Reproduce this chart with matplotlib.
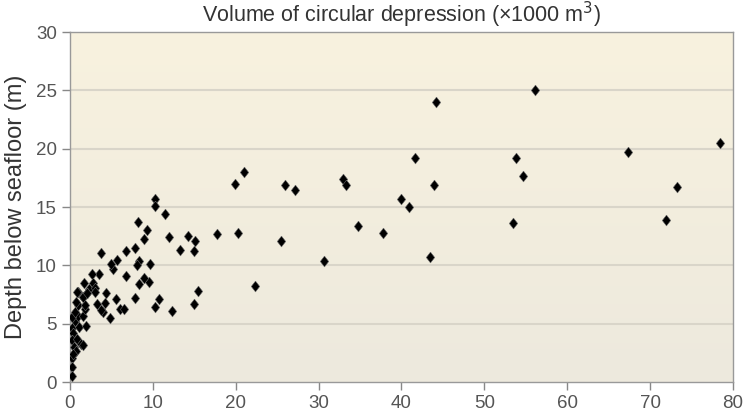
import numpy as np
import matplotlib
matplotlib.use("Agg")
import matplotlib.pyplot as plt
from matplotlib.colors import LinearSegmentedColormap

# volume (x1000 m3) and depth (m)
volume = [
    78.4, 73.3, 71.9, 67.3, 56.1, 53.8, 54.7, 53.5, 44.2, 41.6, 43.9, 40.0,
    40.9, 43.5, 37.8, 34.7, 33.0, 33.3, 30.7, 27.1, 26.0, 25.5, 21.0, 19.9,
    20.3, 22.3, 17.7, 15.4, 15.0, 15.1, 15.0, 14.3, 13.3, 12.3, 11.9, 11.5,
    10.2, 10.2, 10.8, 10.3, 9.7, 9.5, 9.3, 8.9, 8.9, 8.2, 8.3, 8.1, 8.3,
    7.9, 7.9, 6.7, 6.8, 6.0, 6.5, 5.7, 5.5, 5.2, 4.9, 4.8, 4.3, 4.2, 4.0,
    3.8, 3.5, 2.6, 2.8, 2.3, 3.0, 1.7, 1.0, 2.0, 3.0, 1.6, 3.7, 3.2,
    0.2, 0.6, 1.1, 1.9, 0.4, 0.3, 0.8, 1.3, 1.6, 0.5, 0.7, 0.3, 0.2, 0.2,
    0.4, 1.0, 0.3, 1.6, 0.6, 1.8, 1.0, 0.7, 1.8, 1.6, 0.9, 2.0,
]
depth = [
    20.45, 16.7, 13.9, 19.7, 25.0, 19.2, 17.7, 13.6, 24.0, 19.2, 16.9, 15.7,
    15.0, 10.7, 12.8, 13.4, 17.4, 16.9, 10.4, 16.5, 16.9, 12.1, 18.0, 17.0,
    12.8, 8.2, 12.7, 7.8, 6.7, 12.1, 11.25, 12.5, 11.3, 6.1, 12.4, 14.4,
    15.7, 15.1, 7.1, 6.4, 10.1, 8.6, 13.0, 12.3, 8.9, 13.7, 10.4, 10.0, 8.4,
    11.5, 7.2, 11.2, 9.1, 6.3, 6.3, 10.5, 7.1, 9.7, 10.1, 5.5, 7.65, 6.8, 6.0,
    11.1, 9.3, 9.3, 8.5, 8.0, 8.1, 8.45, 7.7, 7.65, 7.7, 7.25, 6.2, 6.7,
    4.6, 5.2, 4.7, 4.8, 4.2, 3.6, 3.7, 3.3, 3.2, 3.0, 2.7, 2.1, 1.3, 0.5,
    2.4, 5.7, 5.6, 5.7, 6.0, 6.3, 6.6, 6.9, 6.6, 7.3, 7.7, 7.6,
]

x_ticks = [0, 10, 20, 30, 40, 50, 60, 70, 80]
y_ticks = [0, 5, 10, 15, 20, 25, 30]

plt.rcParams["font.family"] = ["Liberation Sans", "DejaVu Sans"]

fig = plt.figure(figsize=(7.43, 4.16), dpi=100)
ax = fig.add_axes([0.0942, 0.0817, 0.8923, 0.8413])

# cream background gradient, lighter at the top
cmap = LinearSegmentedColormap.from_list("bg", ["#ede9dd", "#f8f2df"])
grad = np.linspace(0, 1, 256).reshape(-1, 1)
ax.imshow(grad, cmap=cmap, aspect="auto", origin="lower",
          extent=[0, 80, 0, 30], zorder=0)

for y in y_ticks[1:-1]:
    ax.axhline(y, color="#d9d5c9", linewidth=1.5, zorder=1)

# slightly tall diamond marker
diamond = [(0, 1), (0.78, 0), (0, -1), (-0.78, 0), (0, 1)]
ax.scatter(volume, depth, marker=diamond, s=60, color="black",
           edgecolors="#666666", linewidths=0.4, zorder=3)

ax.set_xlim(0, 80)
ax.set_ylim(0, 30)
ax.set_xticks(x_ticks)
ax.set_yticks(y_ticks)

for side in ["left", "bottom", "right", "top"]:
    ax.spines[side].set_color("#999999")
    ax.spines[side].set_linewidth(1.0)

ax.tick_params(axis="both", direction="out", length=6, width=1,
               color="#888888", labelcolor="#555555", labelsize=13.5)

ax.set_ylabel("Depth below seafloor (m)", fontsize=17, color="#333333",
              labelpad=6)
ax.set_title("Volume of circular depression (\u00d71000 m$^3$)",
             fontsize=15.5, color="#333333", pad=7)

fig.savefig("out.png", dpi=100)
